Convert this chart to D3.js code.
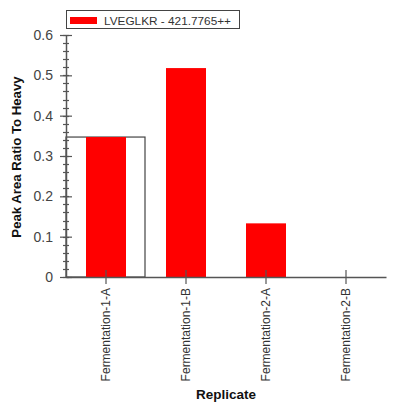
<!DOCTYPE html>
<html><head><meta charset="utf-8">
<script src="https://cdn.jsdelivr.net/npm/d3@7"></script>
<style>body{margin:0;background:#fff;}svg{display:block;font-family:"Liberation Sans",Arial,sans-serif;}</style>
</head><body>
<script>
const categories = ["Fermentation-1-A","Fermentation-1-B","Fermentation-2-A","Fermentation-2-B"];
const values = [0.347, 0.518, 0.133, 0];
const seriesName = "LVEGLKR - 421.7765++";
const yTicks = [0, 0.1, 0.2, 0.3, 0.4, 0.5, 0.6];
const selectedIndex = 0;

const W = 393, H = 402;
const svg = d3.select("body").append("svg").attr("width", W).attr("height", H);
const x0 = 66, x1 = 386, yTop = 35, yBot = 277;
const x = d3.scaleBand().domain(categories).range([x0, x1]).paddingInner(0).paddingOuter(0);
const y = d3.scaleLinear().domain([0, 0.6]).range([yBot, yTop]);
const axisColor = "#555";

// selection box
const sel = categories[selectedIndex];
svg.append("rect").attr("x", x(sel)).attr("y", y(values[selectedIndex]))
  .attr("width", x.bandwidth() - 1).attr("height", yBot - y(values[selectedIndex]))
  .attr("fill", "#fff").attr("stroke", "#444").attr("stroke-width", 1.2);

// bars
const bw = x.bandwidth() / 2;
svg.selectAll("rect.bar").data(categories).enter().append("rect").attr("class", "bar")
  .attr("x", (d) => x(d) + x.bandwidth() / 4)
  .attr("y", (d, i) => y(values[i]))
  .attr("width", bw)
  .attr("height", (d, i) => yBot - y(values[i]))
  .attr("fill", "#ff0000");

// y axis minor ticks
const minor = y.ticks(30);
svg.append("g").selectAll("line").data(minor).enter().append("line")
  .attr("x1", x0 - 3).attr("x2", x0 + 3)
  .attr("y1", d => Math.round(y(d)) + 0.5).attr("y2", d => Math.round(y(d)) + 0.5)
  .attr("stroke", axisColor).attr("stroke-width", 1.2);
// y axis
const yAxis = d3.axisLeft(y).tickValues(yTicks).tickFormat(d => d === 0 ? "0" : d3.format(".1f")(d)).tickSizeInner(6).tickSizeOuter(0).tickPadding(7);
const gy = svg.append("g").attr("transform", `translate(${x0},0)`).call(yAxis);
gy.select(".domain").attr("stroke", axisColor).attr("stroke-width", 1.5);
gy.selectAll(".tick line").attr("x2", 6).attr("x1", -6).attr("stroke", axisColor).attr("stroke-width", 1.2);
gy.selectAll(".tick text").attr("font-size", 14).attr("fill", "#444").attr("x", -13);

// x axis
const xAxis = d3.axisBottom(x).tickSizeInner(7).tickSizeOuter(0).tickPadding(5);
const gx = svg.append("g").attr("transform", `translate(0,${yBot})`).call(xAxis);
gx.select(".domain").attr("stroke", axisColor).attr("stroke-width", 1.5);
gx.selectAll(".tick line").attr("y1", -7).attr("y2", 7).attr("stroke", axisColor).attr("stroke-width", 1.2);
gx.selectAll(".tick text").attr("font-size", 12).attr("fill", "#333")
  .attr("transform", "rotate(-90)").attr("text-anchor", "end").attr("dy", "0.35em")
  .attr("x", -11).attr("y", 0);

// axis titles
svg.append("text").attr("transform", `translate(21,157) rotate(-90)`).attr("text-anchor", "middle")
  .attr("font-size", 13.2).attr("font-weight", "bold").attr("fill", "#111").text("Peak Area Ratio To Heavy");
svg.append("text").attr("x", 226).attr("y", 399).attr("text-anchor", "middle")
  .attr("font-size", 13.5).attr("font-weight", "bold").attr("fill", "#111").text("Replicate");

// legend
const lg = svg.append("g");
lg.append("rect").attr("x", 66.5).attr("y", 10.5).attr("width", 173).attr("height", 18)
  .attr("fill", "#fff").attr("stroke", "#444").attr("stroke-width", 1);
lg.append("rect").attr("x", 70).attr("y", 17).attr("width", 27).attr("height", 7).attr("fill", "#ff0000");
lg.append("text").attr("x", 104).attr("y", 24.5).attr("font-size", 11.8).attr("fill", "#333").text(seriesName);
</script>
</body></html>
